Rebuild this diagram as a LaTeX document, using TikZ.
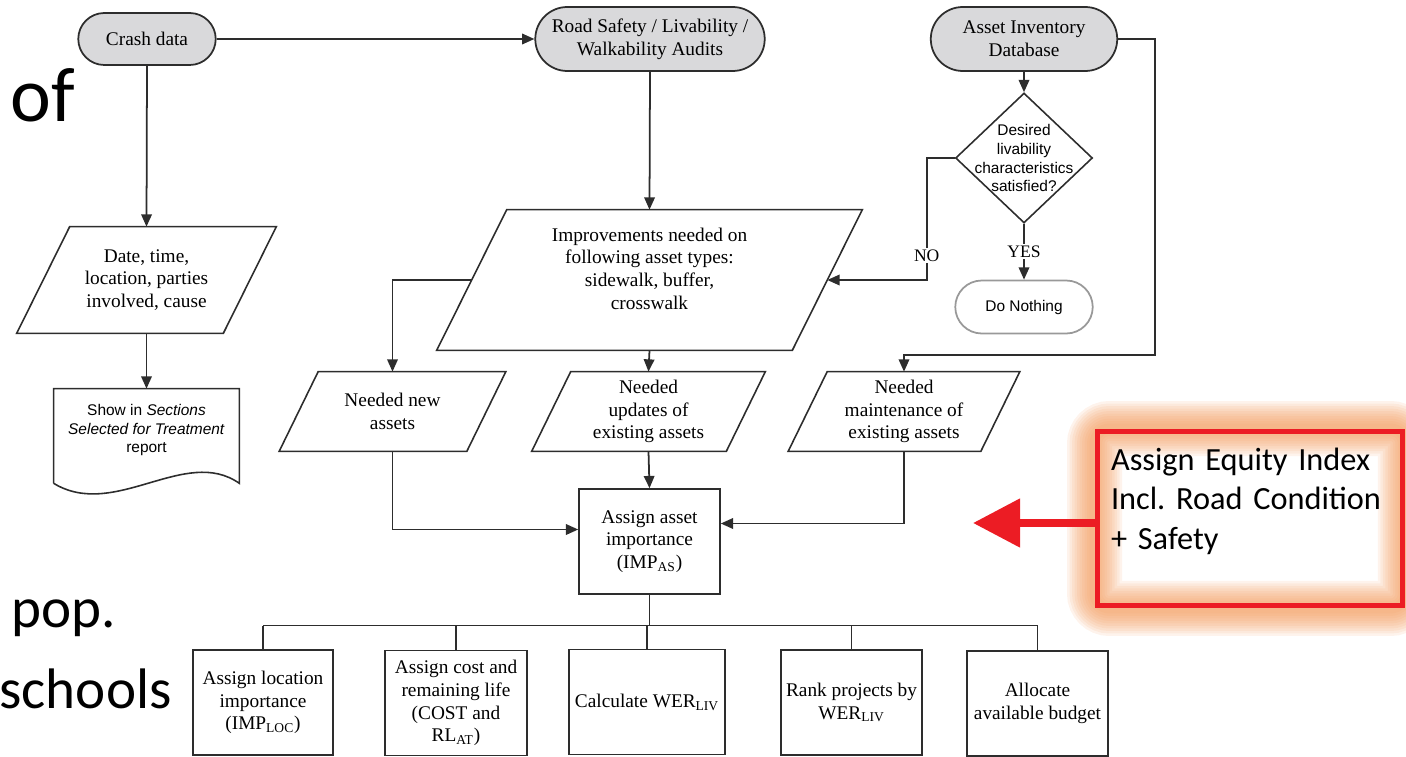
\documentclass[tikz,border=0pt]{standalone}
\usepackage{fontspec}
\setmainfont{Liberation Serif}
\setsansfont{Liberation Sans}
\newfontfamily\slidefont{Carlito}
\usetikzlibrary{positioning,arrows.meta,shapes.geometric,shapes.misc,calc,backgrounds}
\definecolor{linec}{RGB}{45,45,45}
\definecolor{termfill}{RGB}{217,217,219}
\definecolor{hired}{RGB}{236,28,36}
\definecolor{glow}{RGB}{242,150,85}

\begin{document}
\begin{tikzpicture}[
  x=0.02cm, y=-0.02cm,
  font=\fontsize{11}{13}\selectfont,
  line/.style={draw=linec, line width=1pt},
  arr/.style={line, -{Triangle[length=7pt, width=6pt]}},
  term/.style={rounded rectangle, draw=linec, line width=1pt, fill=termfill, align=center, inner sep=1pt},
  para/.style={rectangle, align=center, inner sep=1pt, minimum height=1.58cm,
    append after command={\pgfextra{\draw[line, line width=0.9pt]
      ([xshift=#1]\tikzlastnode.north west) -- ([xshift=#1]\tikzlastnode.north east)
      -- ([xshift=-#1]\tikzlastnode.south east) -- ([xshift=-#1]\tikzlastnode.south west) -- cycle;}}},
  stepbox/.style={rectangle, draw=linec, line width=0.9pt, align=center, minimum height=2.1cm, inner sep=1pt},
  sanstext/.style={font=\sffamily\fontsize{8.8}{10.8}\selectfont},
  slide/.style={font=\slidefont\fontsize{32.5}{40}\selectfont, inner sep=0pt},
  yesno/.style={fill=white, inner sep=1pt, font=\fontsize{10}{12}\selectfont},
]
\useasboundingbox (0,0) rectangle (1406,757);
\clip (0,0) rectangle (1406,757);

\node[slide, font=\slidefont\fontsize{44}{54}\selectfont, anchor=base west] (of) at (10,122) {of};
\node[slide, anchor=base west] (pop) at (11,627) {pop.};
\node[slide, anchor=base east] (schools) at (172,708) {schools};

\node[term, minimum width=2.82cm, minimum height=1.04cm] (crash) at (147,39) {Crash data};
\node[term, minimum width=4.66cm, minimum height=1.28cm] (audit) at (650,39) {Road Safety / Livability /\\ Walkability Audits};
\node[term, minimum width=3.8cm, minimum height=1.28cm] (inventory) at (1024,39) {Asset Inventory\\ Database};
\node[diamond, draw=linec, line width=0.9pt, minimum width=2.74cm, minimum height=2.6cm, inner sep=0pt,
  label={[sanstext, align=center]center:Desired\\ livability\\ characteristics\\ satisfied?}] (check) at (1024,158) {};
\node[term, fill=white, draw=gray!80, sanstext, minimum width=2.82cm, minimum height=1.06cm] (nothing) at (1024,307) {Do Nothing};

\node[para=0.53cm, minimum width=4.12cm, minimum height=2.12cm] (crashinfo) at (146.5,280) {Date, time,\\ location, parties\\ involved, cause};
\node[sanstext, minimum width=3.7cm, minimum height=1.64cm, inner sep=0pt, align=center] (report) at (146.5,430)
  {Show in \textit{Sections}\\ \textit{Selected for Treatment}\\ report};
\draw[line, line width=0.9pt] ($(report.south west)+(0,12)$) -- (report.north west) -- (report.north east)
  -- ($(report.south east)+(0,12)$) .. controls +(-54,-38) and +(61,37) .. ($(report.south west)+(0,12)$);

\node[para=0.7cm, minimum width=7.1cm, minimum height=2.8cm] (improve) at (649.5,280)
  {Improvements needed on\\ following asset types:\\ sidewalk, buffer,\\ crosswalk\\ \mbox{}};
\node[para=0.39cm, minimum width=3.74cm] (newassets) at (392.5,411.5) {Needed new\\ assets};
\node[para=0.39cm, minimum width=3.88cm] (updates) at (648.5,411.5) {Needed\\ updates of\\ existing assets};
\node[para=0.39cm, minimum width=3.84cm] (upkeep) at (904,411.5) {Needed\\ maintenance of\\ existing assets};

\node[stepbox, minimum width=2.82cm] (assetimp) at (649.5,541.5) {Assign asset\\ importance\\ (IMP\textsubscript{AS})};

\node[stepbox, minimum width=2.8cm] (locimp) at (263,702.5) {Assign location\\ importance\\ (IMP\textsubscript{LOC})};
\node[stepbox, minimum width=2.84cm] (costlife) at (456,703) {Assign cost and\\ remaining life\\ (COST and\\ RL\textsubscript{AT})};
\node[stepbox, minimum width=3.12cm] (werliv) at (647,702) {Calculate WER\textsubscript{LIV}};
\node[stepbox, minimum width=2.82cm] (rank) at (851.5,702.5) {Rank projects by\\ WER\textsubscript{LIV}};
\node[stepbox, minimum width=2.82cm] (budget) at (1037.5,703.5) {Allocate\\ available budget};

\draw[arr] (crash.east) -- (audit.west);
\draw[arr] (crash.south) -- (crashinfo.north);
\draw[arr] (crashinfo.south) -- (report.north);
\draw[arr] (audit.south) -- (improve.north);
\draw[arr] (inventory.south) -- (check.north);
\draw[arr] (check.south) -- node[yesno] {YES} (nothing.north);
\draw[arr] (check.west) -- ++(-28,0) |- node[yesno, pos=0.4] {NO} (improve.east);
\draw[arr] (inventory.east) -- ++(37,0) |- ($(upkeep.north)+(0,-17)$) -- (upkeep.north);
\draw[arr] (improve.west) -| (newassets.north);
\draw[arr] (improve.south) -- (updates.north);
\draw[arr] (updates.south) -- (assetimp.north);
\draw[arr] (newassets.south) |- ($(assetimp.west)+(0,-12)$);
\draw[arr] (upkeep.south) |- ($(assetimp.east)+(0,-18)$);

\draw[line] (assetimp.south) -- ++(0,31) coordinate (bus);
\draw[line, line width=0.8pt] (locimp.north |- bus) -- (budget.north |- bus);
\foreach \b in {locimp,costlife,werliv,rank,budget}
  \draw[line, line width=0.8pt] (\b.north |- bus) -- (\b.north);

\node[draw=hired, line width=0.1cm, minimum width=6.12cm, minimum height=3.5cm, text width=5.56cm, align=left,
  font=\slidefont\fontsize{18.4}{22.6}\selectfont] (equity) at (1250,518.5)
  {Assign Equity Index\\ Incl.\ Road Condition\\ + Safety\\ \mbox{}};
\begin{scope}[on background layer]
  \foreach \w in {1.1cm,1.0cm,0.9cm,0.8cm,0.7cm,0.6cm,0.5cm,0.4cm,0.3cm,0.2cm}
    \draw[glow, line width=\w, opacity=0.11, rounded corners=0.3cm] (equity.south west) rectangle (equity.north east);
\end{scope}
\coordinate (eqtip) at (973,523);
\draw[hired, line width=0.16cm, -{Triangle[length=0.94cm, width=0.94cm]}] (equity.west |- eqtip) -- (eqtip);
\end{tikzpicture}
\end{document}
